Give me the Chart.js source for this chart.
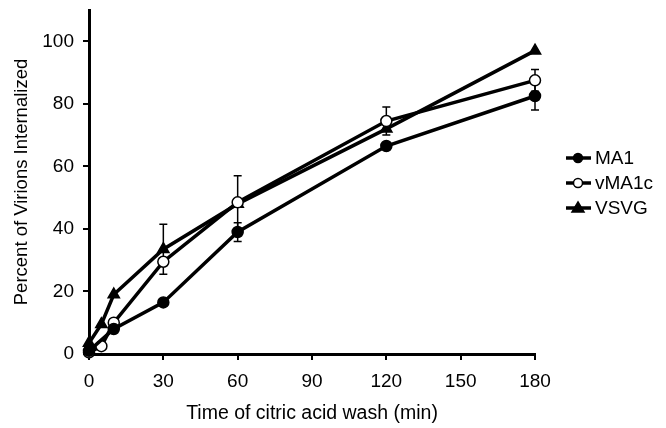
<!DOCTYPE html>
<html>
<head>
<meta charset="utf-8">
<script src="https://cdn.jsdelivr.net/npm/chart.js@4"></script>
<style>
  html, body { margin: 0; padding: 0; background: #fff; }
  #wrap { width: 666px; height: 428px; }
</style>
</head>
<body>
<div id="wrap"><canvas id="chart"></canvas></div>
<script>
const times = [0, 5, 10, 30, 60, 120, 180];
const ma1 = [1, null, 8, 16.5, 39, 66.5, 82.5];
const ma1Err = [0, 0, 0, 0.5, 3, 1, 4.5];
const vma1c = [0.5, 2.5, 10, 29.5, 48.5, 74.5, 87.5];
const vma1cErr = [0, 0, 0, 0, 8.5, 4.5, 3.5];
const vsvg = [3.5, 9.5, 19, 33.5, 48, 72, 97];
const vsvgErr = [0, 0, 0, 8, 0, 0, 0];
const xTicks = [0, 30, 60, 90, 120, 150, 180];
const yTicks = [0, 20, 40, 60, 80, 100];

const FONT = 'Liberation Sans, Arial, Helvetica, sans-serif';

function toPoints(values) {
    return times.map((t, i) => ({ x: t, y: values[i] })).filter(p => p.y !== null);
}

const seriesList = [
    { label: 'MA1', values: ma1, err: ma1Err, style: 'circle', fill: '#000' },
    { label: 'vMA1c', values: vma1c, err: vma1cErr, style: 'circle', fill: '#fff' },
    { label: 'VSVG', values: vsvg, err: vsvgErr, style: 'triangle', fill: '#000' }
];

// error bars drawn under the markers
const errorBars = {
    id: 'errorBars',
    beforeDatasetsDraw(chart) {
        const ctx = chart.ctx;
        const xs = chart.scales.x, ys = chart.scales.y;
        ctx.save();
        ctx.strokeStyle = '#000';
        ctx.lineWidth = 1.5;
        seriesList.forEach(s => {
            s.err.forEach((e, i) => {
                if (!e || s.values[i] === null) return;
                const px = xs.getPixelForValue(times[i]);
                const top = ys.getPixelForValue(s.values[i] + e);
                const bot = ys.getPixelForValue(s.values[i] - e);
                ctx.beginPath();
                ctx.moveTo(px, top); ctx.lineTo(px, bot);
                ctx.moveTo(px - 4, top); ctx.lineTo(px + 4, top);
                ctx.moveTo(px - 4, bot); ctx.lineTo(px + 4, bot);
                ctx.stroke();
            });
        });
        ctx.restore();
    }
};

// legend with line + marker like the original figure
const sideLegend = {
    id: 'sideLegend',
    afterDraw(chart) {
        const ctx = chart.ctx;
        const x0 = 566, y0 = 158, gap = 25;
        ctx.save();
        ctx.font = '19px ' + FONT;
        ctx.textBaseline = 'middle';
        seriesList.forEach((s, i) => {
            const y = y0 + i * gap;
            ctx.strokeStyle = '#000';
            ctx.lineWidth = 3.5;
            ctx.beginPath();
            ctx.moveTo(x0, y); ctx.lineTo(x0 + 25, y);
            ctx.stroke();
            ctx.fillStyle = s.fill;
            ctx.lineWidth = 1.5;
            ctx.beginPath();
            if (s.style === 'triangle') {
                ctx.moveTo(x0 + 12, y - 6);
                ctx.lineTo(x0 + 18, y + 4);
                ctx.lineTo(x0 + 6, y + 4);
                ctx.closePath();
            } else {
                ctx.arc(x0 + 12, y, 4.5, 0, Math.PI * 2);
            }
            ctx.fill();
            ctx.stroke();
            ctx.fillStyle = '#000';
            ctx.fillText(s.label, x0 + 29, y + 1);
        });
        ctx.restore();
    }
};

new Chart(document.getElementById('chart'), {
    type: 'line',
    data: {
        datasets: seriesList.map(s => ({
            label: s.label,
            data: toPoints(s.values),
            borderColor: '#000',
            borderWidth: 3.5,
            pointStyle: s.style,
            pointRadius: s.style === 'triangle' ? 6.5 : 5.5,
            pointBackgroundColor: s.fill,
            pointBorderColor: '#000',
            pointBorderWidth: 1.5,
            tension: 0,
            clip: false
        }))
    },
    options: {
        responsive: true,
        maintainAspectRatio: false,
        animation: false,
        layout: { padding: { left: 0, right: 131, top: 10, bottom: 0 } },
        plugins: {
            legend: { display: false },
            tooltip: { enabled: false }
        },
        scales: {
            x: {
                type: 'linear',
                min: 0,
                max: 180,
                afterBuildTicks: scale => { scale.ticks = xTicks.map(v => ({ value: v })); },
                afterFit: scale => { scale.height = 74; },
                border: { display: true, color: '#000', width: 3 },
                grid: { drawOnChartArea: false, color: '#000', lineWidth: 2, tickLength: 6 },
                ticks: { color: '#000', font: { family: FONT, size: 19 }, padding: 10, maxRotation: 0 },
                title: {
                    display: true,
                    text: 'Time of citric acid wash (min)',
                    color: '#000',
                    font: { family: FONT, size: 19.5 },
                    padding: { top: 0, bottom: 3 }
                }
            },
            y: {
                type: 'linear',
                min: 0,
                max: 110,
                afterBuildTicks: scale => { scale.ticks = yTicks.map(v => ({ value: v })); },
                afterFit: scale => { scale.width = 89; scale.paddingTop = 0; scale.paddingBottom = 0; },
                border: { display: true, color: '#000', width: 3 },
                grid: { drawOnChartArea: false, color: '#000', lineWidth: 2, tickLength: 6 },
                ticks: { color: '#000', font: { family: FONT, size: 19 }, padding: 9 },
                title: {
                    display: true,
                    text: 'Percent of Virions Internalized',
                    color: '#000',
                    font: { family: FONT, size: 18.5 },
                    padding: { top: 11, bottom: 0 }
                }
            }
        }
    },
    plugins: [errorBars, sideLegend]
});
</script>
</body>
</html>
